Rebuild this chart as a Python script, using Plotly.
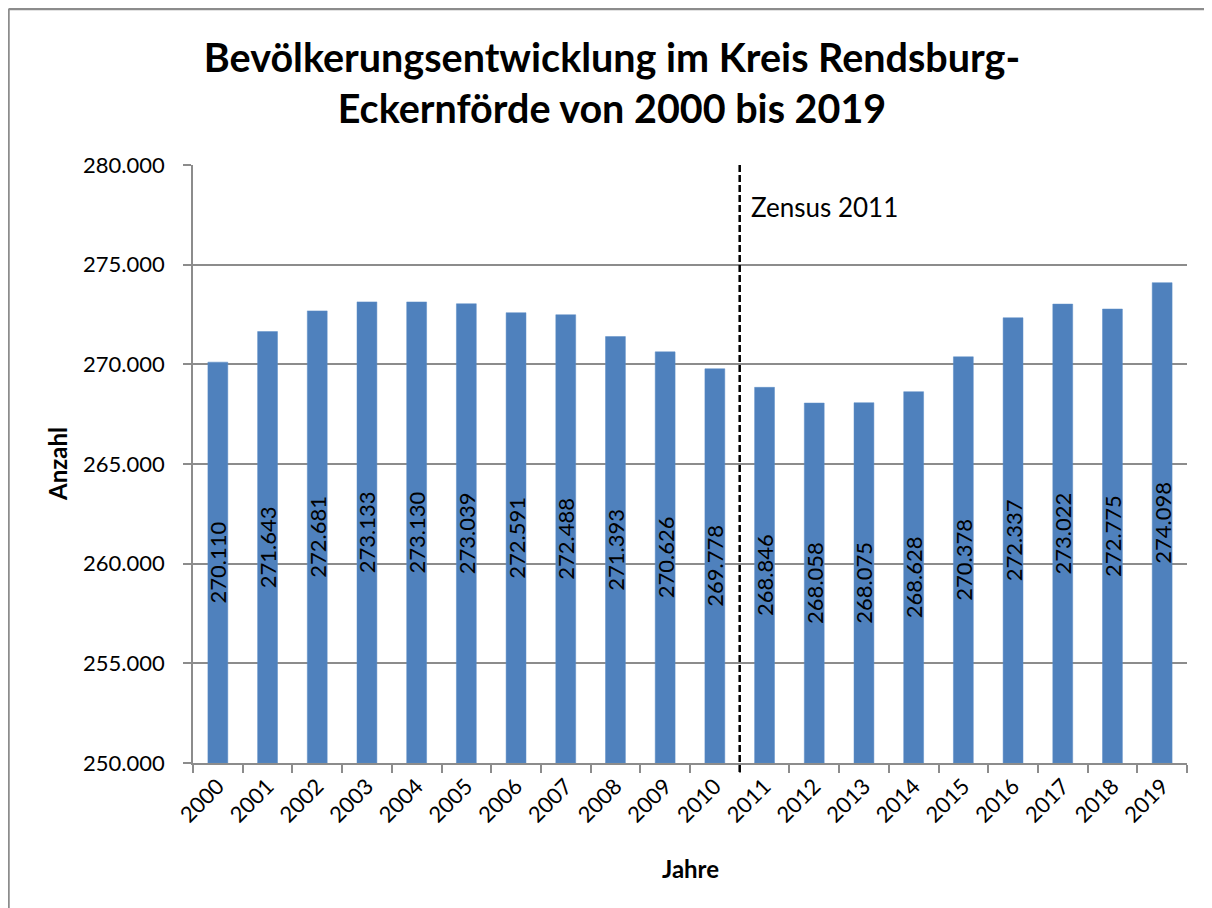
import plotly.graph_objects as go

years = [str(y) for y in range(2000, 2020)]
population = [270110, 271643, 272681, 273133, 273130, 273039, 272591, 272488, 271393, 270626,
              269778, 268846, 268058, 268075, 268628, 270378, 272337, 273022, 272775, 274098]
labels = [f"{v:,}".replace(",", ".") for v in population]
y_ticks = [250000, 255000, 260000, 265000, 270000, 275000, 280000]
y_min, y_max = 250000, 280000

FONT = "Lato"
OFF = 8  # page body margin

W, H = 1196, 900
L, T = 193 - OFF, 165 - OFF
pw, ph = 994, 598
R = W - L - pw
B = H - T - ph

def px(x):  # picture pixel -> paper x
    return (x - OFF - L) / pw

def py(y):  # picture pixel -> paper y
    return (T + ph - (y - OFF)) / ph

fig = go.Figure()
fig.add_trace(go.Bar(
    x=years, y=[v - y_min for v in population], base=y_min,
    marker=dict(color="#4F81BD", line=dict(color="#5b8cc6", width=0.5)),
    text=labels,
    textposition="inside",
    insidetextanchor="middle",
    textangle=-90,
    constraintext="none",
    textfont=dict(family=FONT, size=22, color="black"),
))

# outer frame (left and top edges visible)
frame = dict(color="#8c8c8c", width=2.5)
fig.add_shape(type="line", xref="paper", yref="paper",
              x0=px(8.5), x1=px(8.5), y0=py(9), y1=py(960), line=frame, layer="below")
fig.add_shape(type="line", xref="paper", yref="paper",
              x0=px(8.5), x1=px(1260), y0=py(9), y1=py(9), line=frame, layer="below")

# census break line
fig.add_shape(type="line", xref="x", yref="paper", x0=10.5, x1=10.5, y0=py(772), y1=1,
              line=dict(color="black", width=2.5, dash="7px,3px"))
fig.add_annotation(x=10.5, xref="x", xshift=9, y=py(207), yref="paper",
                   text="Zensus 2011", showarrow=False, xanchor="left", yanchor="middle",
                   font=dict(family=FONT, size=26, color="black"))

# axis titles
fig.add_annotation(x=px(57), xref="paper", y=py(464), yref="paper", text="<b>Anzahl</b>",
                   textangle=-90, showarrow=False, xanchor="center", yanchor="middle",
                   font=dict(family=FONT, size=24, color="black"))
fig.add_annotation(x=px(690), xref="paper", y=py(868), yref="paper", text="<b>Jahre</b>",
                   showarrow=False, xanchor="center", yanchor="middle",
                   font=dict(family=FONT, size=24, color="black"))

fig.update_layout(
    width=W, height=H,
    margin=dict(l=L, r=R, t=T, b=B, autoexpand=False),
    paper_bgcolor="white", plot_bgcolor="white",
    separators=",.",
    bargap=0.6,
    showlegend=False,
    title=dict(text="<b>Bevölkerungsentwicklung im Kreis Rendsburg-<br>Eckernförde von 2000 bis 2019</b>",
               x=px(612), xref="paper", xanchor="center", y=1 - (72 - OFF) / H, yanchor="middle",
               font=dict(family=FONT, size=39.5, color="black")),
    font=dict(family=FONT, color="black"),
)
fig.update_xaxes(
    type="category", tickangle=-45, tickson="boundaries", ticks="outside", ticklen=8,
    tickcolor="#8c8c8c", tickwidth=1.5, showline=True, linecolor="#8c8c8c", linewidth=1.5,
    tickfont=dict(family=FONT, size=22, color="black"), ticklabelstandoff=0,
    showgrid=False,
)
fig.update_yaxes(
    range=[y_min, y_max], tickvals=y_ticks, tickformat=",d",
    ticks="outside", ticklen=8, tickcolor="#8c8c8c", tickwidth=1.5,
    showline=True, linecolor="#8c8c8c", linewidth=1.5,
    showgrid=True, gridcolor="#8c8c8c", gridwidth=1.5,
    tickfont=dict(family=FONT, size=22, color="black"), ticklabelstandoff=14,
    zeroline=False,
)
fig.write_html("out.html")
